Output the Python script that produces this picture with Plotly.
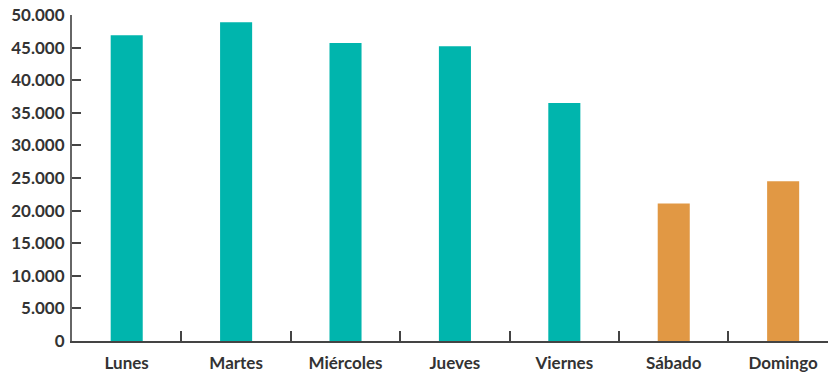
import plotly.graph_objects as go

# Visitors per weekday
dias = ['Lunes', 'Martes', 'Miércoles', 'Jueves', 'Viernes', 'Sábado', 'Domingo']
valores = [46900, 48900, 45700, 45200, 36500, 21100, 24500]
colores = ['#00B5AD'] * 5 + ['#E19844'] * 2

fig = go.Figure(go.Bar(
    x=dias,
    y=valores,
    marker_color=colores,
    marker_line_width=0,
    width=0.293,
))

fig.update_layout(
    width=828,
    height=376,
    margin=dict(l=72, r=0, t=15, b=35, autoexpand=False),
    plot_bgcolor='white',
    paper_bgcolor='white',
    separators=',.',
    showlegend=False,
    font=dict(family='Lato', size=16, color='#333333', weight='bold'),
)

fig.update_xaxes(
    range=[-0.5, 6.41],
    automargin=False,
    showline=True, linecolor='#444444', linewidth=1.5,
    ticks='inside', tickson='boundaries', ticklen=10, tickcolor='#444444', tickwidth=1.5,
    showgrid=False,
    ticklabelstandoff=6,
    tickfont=dict(size=17),
)

fig.update_yaxes(
    range=[0, 50000],
    automargin=False,
    dtick=5000,
    tickformat=',d',
    showline=True, linecolor='#666666', linewidth=2,
    ticks='inside', ticklen=9, tickcolor='#444444', tickwidth=1.5,
    showgrid=False, zeroline=False,
    ticklabelstandoff=2,
    tickfont=dict(size=17),
)

# the page body has a default 8px margin; remove it so the chart sits at 0,0
fig.write_html('out.html', config={'displayModeBar': False},
               post_script="document.body.style.margin='0';")
